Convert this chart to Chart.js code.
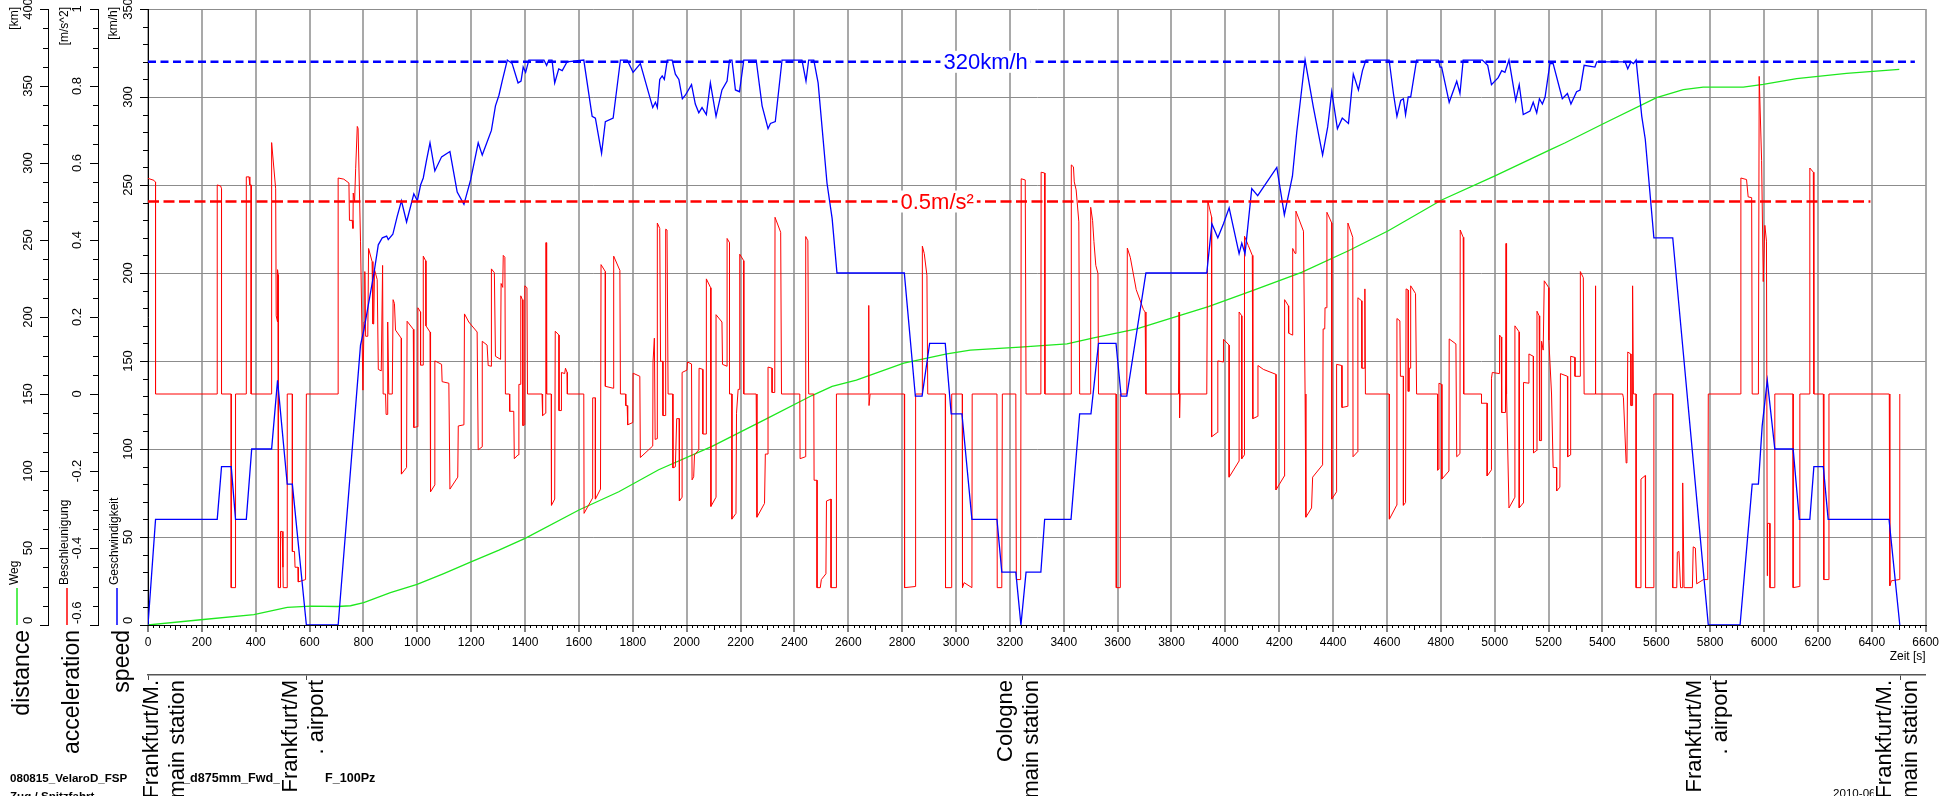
<!DOCTYPE html>
<html>
<head>
<meta charset="utf-8">
<script src="https://cdn.jsdelivr.net/npm/chart.js@4.4.1/dist/chart.umd.min.js"></script>
<style>
  html, body { margin: 0; padding: 0; background: #fff; }
  canvas { display: block; }
</style>
</head>
<body>
<canvas id="c" width="1942" height="796"></canvas>
<script>
// ---- run data: time [s] against speed, acceleration and distance ----
const speedSamples = [
  [0,0],[28,60],[257,60],[273,90],[309,90],[325,60],[365,60],[385,100],[459,100],[481,139],[517,80],[536,80],[588,0],[706,0],
  [789,159],[802,168],[839,200],[855,216],[870,220],[886,221],[892,219],[909,222],[925,232],[941,241],[960,229],[987,245],
  [1000,241],[1012,250],[1022,254],[1034,264],[1047,274],[1065,258],[1090,266],[1121,269],[1148,246],[1173,239],[1198,253],
  [1226,274],[1241,267],[1275,281],[1290,295],[1303,301],[1315,309],[1334,321],[1352,319],[1374,308],[1385,309],[1393,317],
  [1402,314],[1414,321],[1470,321],[1480,318],[1488,321],[1500,321],[1510,308],[1525,316],[1538,315],[1556,320],[1618,321],
  [1649,289],[1661,288],[1684,268],[1698,286],[1727,288],[1754,321],[1779,321],[1801,314],[1828,319],[1874,294],[1884,297],
  [1891,294],[1900,310],[1909,312],[1917,310],[1928,321],[1946,321],[1958,313],[1971,310],[1984,299],[1995,301],[2018,307],
  [2032,296],[2045,291],[2057,294],[2073,290],[2088,308],[2109,289],[2131,304],[2150,309],[2159,321],[2168,321],[2181,304],
  [2196,303],[2212,321],[2258,321],[2280,295],[2302,282],[2311,285],[2329,286],[2354,321],[2428,321],[2443,309],[2453,321],
  [2472,321],[2488,308],[2521,251],[2540,231],[2558,200],[2808,200],[2849,130],[2874,130],[2902,160],[2960,160],[2982,120],
  [3022,120],[3059,60],[3152,60],[3170,30],[3222,30],[3241,0],[3260,30],[3315,30],[3329,60],[3427,60],[3459,120],[3501,120],
  [3529,160],[3594,160],[3613,130],[3634,130],[3705,200],[3931,200],[3950,228],[3972,220],[3993,228],[4014,237],[4051,211],
  [4061,217],[4073,211],[4098,248],[4120,244],[4191,260],[4219,233],[4249,255],[4265,280],[4296,321],[4327,294],[4361,267],
  [4380,283],[4395,303],[4416,282],[4434,288],[4457,285],[4475,313],[4494,304],[4509,315],[4522,321],[4608,321],[4624,302],
  [4637,289],[4651,298],[4661,299],[4669,290],[4679,300],[4688,300],[4710,321],[4791,321],[4797,317],[4803,317],[4831,297],
  [4859,309],[4871,302],[4883,321],[4954,321],[4974,318],[4988,307],[5013,311],[5026,315],[5038,314],[5053,321],[5078,298],
  [5091,307],[5106,290],[5131,292],[5143,297],[5156,291],[5166,299],[5177,296],[5187,300],[5205,319],[5217,319],[5251,299],
  [5270,302],[5283,296],[5304,303],[5317,304],[5332,318],[5372,317],[5379,320],[5484,320],[5494,316],[5506,320],[5515,319],
  [5525,321],[5546,289],[5559,276],[5591,220],[5661,220],[5700,155],[5793,0],[5911,0],[5956,80],[5979,80],[5993,113],
  [6012,139],[6040,100],[6108,100],[6131,60],[6170,60],[6185,90],[6220,90],[6238,60],[6464,60],[6504,0]
];

const accSamples = [
  [0,0.56],[22,0.555],[28,0.55],[28,0],[257,0],[257,0.543],[270,0.54],[273,0.533],[273,0],[309,0],[309,-0.503],[325,-0.503],
  [325,0],[365,0],[365,0.564],[375,0.564],[378,0.543],[383,0.543],[383,0],[459,0],[459,0.653],[474,0.533],[476,0.203],
  [481,0.187],[481,0.323],[483,0.31],[484,-0.503],[492,-0.503],[492,-0.357],[498,-0.357],[501,-0.45],[502,-0.503],[517,-0.503],
  [517,0],[536,0],[536,-0.409],[544,-0.409],[546,-0.45],[557,-0.45],[558,-0.488],[585,-0.482],[588,0],[706,0],[706,0.561],
  [727,0.558],[746,0.548],[748,0.451],[758,0.451],[761,0.43],[762,0.522],[767,0.5],[771,0.585],[777,0.695],[780,0.69],
  [789,0.397],[798,0.01],[802,0.187],[805,0.318],[808,0.15],[816,0.15],[819,0.378],[832,0.344],[835,0.182],[838,0.182],
  [841,0.323],[851,0.297],[855,0.064],[866,0.06],[871,0.334],[873,0],[882,0],[884,-0.053],[890,-0.053],[890,0.187],[894,0],
  [907,0],[910,0.245],[915,0.235],[919,0.166],[940,0.145],[941,-0.208],[960,-0.191],[962,0.189],[985,0.168],[987,-0.087],
  [999,-0.085],[1002,0.224],[1012,0.213],[1012,0.075],[1022,0.075],[1022,0.358],[1031,0.346],[1032,0.177],[1047,0.161],
  [1049,-0.254],[1065,-0.236],[1065,0.086],[1090,0.077],[1092,0.032],[1117,0.028],[1121,-0.247],[1150,-0.216],[1152,-0.083],
  [1173,-0.08],[1175,0.208],[1191,0.187],[1222,0.161],[1226,-0.145],[1241,-0.137],[1241,0.137],[1259,0.127],[1263,0.074],
  [1275,0.072],[1275,0.325],[1286,0.315],[1290,0.098],[1309,0.09],[1311,0.287],[1317,0.277],[1319,0.36],[1325,0.355],
  [1327,0],[1342,0],[1343,-0.045],[1358,-0.045],[1360,-0.168],[1374,-0.158],[1377,0.025],[1383,0.025],[1384,0.255],
  [1390,0.245],[1392,-0.082],[1398,-0.08],[1399,0.281],[1407,0.276],[1409,0],[1463,0],[1465,-0.056],[1476,-0.05],[1477,0.393],
  [1479,0.393],[1480,0],[1497,0],[1498,-0.289],[1510,-0.273],[1512,0.163],[1526,0.153],[1526,-0.043],[1534,-0.043],
  [1535,0.056],[1547,0.053],[1550,0.067],[1556,0.056],[1557,0],[1618,0],[1619,-0.31],[1630,-0.296],[1651,-0.27],[1651,-0.01],
  [1661,-0.01],[1661,-0.273],[1680,-0.247],[1682,0.336],[1698,0.318],[1698,0.02],[1727,0.015],[1729,0.358],[1752,0.321],
  [1754,0],[1773,0],[1774,-0.03],[1779,-0.03],[1781,-0.08],[1800,-0.074],[1801,0.054],[1826,0.046],[1828,-0.165],[1874,-0.135],
  [1875,0.083],[1880,0.145],[1883,-0.118],[1890,-0.116],[1891,0.444],[1900,0.43],[1903,0.085],[1911,0.085],[1912,-0.056],
  [1921,-0.056],[1922,0.428],[1927,0.426],[1931,0],[1948,0],[1949,-0.192],[1958,-0.189],[1963,-0.064],[1972,-0.064],
  [1973,-0.278],[1983,-0.268],[1983,0.056],[2001,0.062],[2003,0.083],[2018,0.078],[2020,-0.223],[2026,-0.215],[2029,-0.158],
  [2045,-0.145],[2046,0.067],[2060,0.064],[2060,-0.104],[2072,-0.104],[2073,0.299],[2089,0.276],[2090,-0.292],[2109,-0.268],
  [2109,0.206],[2131,0.187],[2133,0.077],[2150,0.072],[2150,0.404],[2159,0.393],[2159,0],[2168,0],[2168,-0.325],[2183,-0.31],
  [2185,-0.05],[2191,0.012],[2196,0.012],[2197,0.363],[2212,0.346],[2212,0],[2258,0],[2261,-0.32],[2289,-0.284],[2292,-0.156],
  [2302,-0.156],[2302,0.07],[2317,0.067],[2317,0.004],[2327,0.004],[2328,0.459],[2349,0.42],[2352,0],[2420,0],[2421,-0.168],
  [2441,-0.163],[2442,0.409],[2450,0.398],[2453,0],[2472,0],[2473,-0.224],[2484,-0.224],[2484,-0.503],[2496,-0.503],
  [2500,-0.482],[2517,-0.467],[2519,-0.278],[2536,-0.273],[2536,-0.503],[2556,-0.503],[2556,0],[2675,0],[2676,0.23],
  [2677,-0.03],[2680,-0.03],[2681,0],[2808,0],[2809,-0.503],[2849,-0.5],[2850,0],[2874,0],[2875,0.384],[2882,0.365],
  [2892,0.308],[2895,0],[2960,0],[2961,-0.503],[2982,-0.503],[2984,0],[3023,0],[3024,-0.503],[3030,-0.49],[3059,-0.503],
  [3060,0],[3152,0],[3153,-0.503],[3170,-0.503],[3172,0],[3222,0],[3224,-0.482],[3240,-0.482],[3242,0.559],[3257,0.556],
  [3260,0],[3315,0],[3316,0.576],[3329,0.574],[3330,0],[3427,0],[3428,0.595],[3436,0.59],[3439,0.551],[3446,0.53],
  [3456,0.447],[3459,0],[3498,0],[3500,0.485],[3507,0.451],[3512,0.396],[3519,0.334],[3527,0.313],[3529,0],[3594,0],
  [3595,-0.503],[3610,-0.503],[3610,0],[3634,0],[3636,0.379],[3647,0.355],[3669,0.271],[3696,0.219],[3702,0.213],[3705,0],
  [3826,0],[3828,0.213],[3830,-0.062],[3832,0],[3931,0],[3935,0.501],[3949,0.459],[3949,-0.111],[3970,-0.1],[3972,0.086],
  [3993,0.083],[3993,0.142],[4014,0.127],[4014,-0.216],[4051,-0.174],[4051,0.213],[4061,0.203],[4061,-0.168],[4071,-0.158],
  [4071,0.41],[4085,0.386],[4100,0.36],[4102,-0.064],[4120,-0.058],[4121,0.074],[4141,0.064],[4188,0.051],[4188,-0.249],
  [4219,-0.213],[4220,0.245],[4234,0.229],[4235,0.158],[4249,0.153],[4250,0.378],[4259,0.365],[4262,0.475],[4290,0.423],
  [4296,0],[4299,-0.32],[4320,-0.296],[4324,-0.216],[4361,-0.184],[4363,0.169],[4369,0.169],[4370,0.224],[4376,0.224],
  [4377,0.472],[4395,0.444],[4395,-0.273],[4413,-0.254],[4413,0.077],[4432,0.074],[4433,-0.035],[4454,-0.032],[4455,0.444],
  [4473,0.407],[4474,-0.163],[4491,-0.15],[4492,0.25],[4506,0.242],[4507,0.067],[4517,0.067],[4518,0.273],[4520,0],
  [4608,0],[4609,-0.325],[4636,-0.289],[4637,0.196],[4648,0.19],[4650,0.046],[4661,0.046],[4661,-0.289],[4669,-0.282],
  [4671,0.273],[4679,0.27],[4679,0.007],[4683,0.007],[4683,0.067],[4688,0.067],[4688,0.281],[4706,0.261],[4710,0],[4788,0],
  [4788,-0.198],[4792,-0.195],[4793,0.028],[4803,0.025],[4804,-0.221],[4830,-0.2],[4831,0.143],[4856,0.13],[4859,-0.163],
  [4871,-0.155],[4872,0.426],[4883,0.407],[4885,0],[4951,0],[4951,-0.024],[4972,-0.024],[4972,-0.213],[4988,-0.197],
  [4988,0.041],[4991,0.056],[5017,0.053],[5018,0.153],[5024,0.148],[5026,-0.048],[5040,-0.048],[5042,0.391],[5044,0],
  [5053,-0.296],[5075,-0.268],[5075,0.177],[5091,0.161],[5091,-0.296],[5106,-0.283],[5107,0.03],[5127,0.028],[5127,0.104],
  [5143,0.098],[5144,-0.153],[5155,-0.147],[5157,0.215],[5165,0.203],[5167,-0.121],[5174,-0.121],[5174,0.137],[5180,0.114],
  [5184,0.294],[5201,0.276],[5201,0.14],[5211,0],[5217,-0.191],[5230,-0.191],[5230,-0.252],[5242,-0.242],[5244,0.053],
  [5270,0.046],[5271,-0.163],[5282,-0.158],[5282,0.098],[5298,0.095],[5298,0.046],[5317,0.046],[5318,0.318],[5329,0.302],
  [5332,0],[5373,0],[5374,0.281],[5375,0],[5475,0],[5478,-0.01],[5488,-0.179],[5491,-0.176],[5494,0.109],[5505,0.104],
  [5506,-0.03],[5511,-0.03],[5512,0.281],[5515,0],[5525,0],[5525,-0.503],[5543,-0.503],[5543,-0.221],[5559,-0.212],
  [5560,-0.503],[5591,-0.503],[5591,0],[5661,0],[5661,-0.503],[5676,-0.503],[5678,-0.411],[5684,-0.409],[5690,-0.503],
  [5696,-0.503],[5698,-0.231],[5703,-0.503],[5734,-0.503],[5737,-0.397],[5745,-0.4],[5750,-0.493],[5775,-0.482],
  [5791,-0.482],[5793,0],[5913,0],[5914,0.561],[5935,0.557],[5941,0.512],[5954,0.51],[5956,0],[5979,0],[5982,0.825],
  [5991,0.606],[5997,0.292],[6003,0.438],[6009,0.397],[6012,-0.472],[6013,-0.336],[6021,-0.336],[6022,-0.503],[6038,-0.503],
  [6040,0],[6108,0],[6108,-0.503],[6131,-0.5],[6133,0],[6170,0],[6170,0.587],[6183,0.576],[6185,0],[6220,0],[6222,-0.482],
  [6238,-0.482],[6241,0],[6465,0],[6467,-0.498],[6473,-0.485],[6502,-0.482],[6504,0]
];

const distanceSamples = [
  [0,0],[196,3.4],[393,6.8],[517,11.5],[604,12.3],[703,12],[752,12.5],[801,14.6],[900,21],[999,26.4],[1098,33.4],
  [1197,40.8],[1303,48.6],[1402,56.4],[1600,74.7],[1748,86.5],[1896,100.8],[2094,116],[2292,133.5],[2465,149],[2540,155],
  [2630,159],[2806,170],[2966,176],[3053,178.5],[3238,180.5],[3412,182.6],[3511,186.5],[3671,192.3],[3832,201],[3937,206.7],
  [4098,217],[4283,229],[4457,243],[4605,256],[4803,276],[5001,291.6],[5205,308.5],[5260,313],[5403,325.5],[5601,342.5],
  [5700,347.7],[5774,349.3],[5923,349.3],[5997,351],[6121,354.8],[6306,358.2],[6502,360.8]
];

// stops along the run
const stationTimes = [0, 590, 3245, 5802, 6507];
const stationNames = [
  ['Frankfurt/M.', 'main station'],
  ['Frankfurt/M', '. airport'],
  ['Cologne', 'main station'],
  ['Frankfurt/M', '. airport'],
  ['Frankfurt/M.', 'main station']
];

// limit lines and their captions
const speedLimit = 320;        // km/h
const speedLimitEnd = 6560;    // s
const accLimit = 0.5;          // m/s^2
const accLimitEnd = 6395;      // s
const speedLimitCaption = { t: 3110, text: '320km/h' };
const accLimitCaption = { t: 2930, text: '0.5m/s\u00B2' };

// axis ranges and steps
const timeRange = [0, 6600], timeStep = 200;
const speedRange = [0, 350], speedStep = 50;
const accRange = [-0.6, 1], accStep = 0.2;
const distRange = [0, 400], distStep = 50;

const FONT = "'Liberation Sans', Arial, Helvetica, sans-serif";
const TICK_FONT = 13;
const BLUE = '#0000ff', RED = '#ff0000', GREEN = '#1ee81e';

const toXY = arr => arr.map(p => ({ x: p[0], y: p[1] }));
const numLabel = v => String(Math.round(v * 100) / 100);
// the lowest label of each value axis is set separately so that it sits above the time axis
const valueLabel = (v, i) => (i === 0 ? '' : numLabel(v));

// extra marks and text around the axes
const decorations = {
  id: 'decorations',
  afterDatasetsDraw(chart) {
    const ctx = chart.ctx;
    const xs = chart.scales.x;
    const captions = [
      { c: speedLimitCaption, y: chart.scales.ySpeed.getPixelForValue(speedLimit), col: BLUE },
      { c: accLimitCaption, y: chart.scales.yAcc.getPixelForValue(accLimit), col: RED }
    ];
    ctx.save();
    ctx.font = '22px ' + FONT;
    ctx.textAlign = 'center';
    ctx.textBaseline = 'middle';
    for (const cap of captions) {
      const px = xs.getPixelForValue(cap.c.t);
      const w = ctx.measureText(cap.c.text).width;
      ctx.fillStyle = '#fff';
      ctx.fillRect(px - w / 2 - 3, cap.y - 11, w + 6, 22);
      ctx.fillStyle = cap.col;
      ctx.fillText(cap.c.text, px, cap.y + 1);
    }
    ctx.restore();
  },
  afterDraw(chart) {
    const ctx = chart.ctx;
    const xs = chart.scales.x, x2 = chart.scales.xStations;
    const ys = chart.scales.ySpeed, ya = chart.scales.yAcc, yd = chart.scales.yDist;
    ctx.save();
    ctx.strokeStyle = '#000';
    ctx.lineWidth = 1;

    // minor ticks on the time axis
    ctx.beginPath();
    for (let v = timeRange[0]; v <= timeRange[1]; v += 20) {
      if (v % timeStep === 0) continue;
      const px = Math.round(xs.getPixelForValue(v)) + 0.5;
      const len = v % 100 === 0 ? 5 : 3;
      ctx.moveTo(px, xs.top);
      ctx.lineTo(px, xs.top + len);
    }
    ctx.stroke();

    // minor ticks on the three value axes
    const minor = [
      { s: yd, lo: distRange[0], hi: distRange[1], step: 12.5, major: distStep },
      { s: ya, lo: accRange[0], hi: accRange[1], step: 0.05, major: accStep },
      { s: ys, lo: speedRange[0], hi: speedRange[1], step: 10, major: speedStep }
    ];
    ctx.beginPath();
    for (const m of minor) {
      const n = Math.round((m.hi - m.lo) / m.step);
      const per = Math.round(m.major / m.step);
      for (let i = 0; i <= n; i++) {
        if (i % per === 0) continue;
        const py = Math.round(m.s.getPixelForValue(m.lo + i * m.step)) + 0.5;
        ctx.moveTo(m.s.right, py);
        ctx.lineTo(m.s.right - 5, py);
      }
    }
    ctx.stroke();

    const rotText = (text, x, y, font, color, align) => {
      ctx.save();
      ctx.translate(x, y);
      ctx.rotate(-Math.PI / 2);
      ctx.font = font;
      ctx.fillStyle = color;
      ctx.textAlign = align;
      ctx.textBaseline = 'middle';
      ctx.fillText(text, 0, 0);
      ctx.restore();
    };

    // lowest label of each value axis, resting on the time axis
    ctx.font = TICK_FONT + 'px ' + FONT;
    for (const s of [yd, ya, ys]) {
      const labels = s.ticks.map(t => numLabel(t.value));
      const widest = Math.max(...labels.map(l => ctx.measureText(l).width));
      const cx = s.right - 8 - 1 - widest / 2;
      rotText(labels[0], cx, s.bottom - 1, TICK_FONT + 'px ' + FONT, '#000', 'left');
    }

    // unit captions at the top of each value axis
    rotText('[km]', yd.right - 33, 7, '12px ' + FONT, '#000', 'right');
    rotText('[m/s^2]', ya.right - 33, 7, '12px ' + FONT, '#000', 'right');
    rotText('[km/h]', ys.right - 34, 7, '12px ' + FONT, '#000', 'right');

    // series keys at the foot of each value axis
    const keys = [
      { s: yd, name: 'Weg', col: GREEN },
      { s: ya, name: 'Beschleunigung', col: RED },
      { s: ys, name: 'Geschwindigkeit', col: BLUE }
    ];
    for (const k of keys) {
      const ax = k.s.right;
      ctx.strokeStyle = k.col;
      ctx.lineWidth = 1.5;
      ctx.beginPath();
      ctx.moveTo(ax - 31, k.s.bottom);
      ctx.lineTo(ax - 31, k.s.bottom - 37);
      ctx.stroke();
      rotText(k.name, ax - 33, k.s.bottom - 40, '12px ' + FONT, '#000', 'left');
    }

    // big quantity names under the value axes
    rotText('distance', yd.right - 25, xs.top + 5, '23px ' + FONT, '#000', 'right');
    rotText('acceleration', ya.right - 25, xs.top + 5, '23px ' + FONT, '#000', 'right');
    rotText('speed', ys.right - 25, xs.top + 5, '23px ' + FONT, '#000', 'right');

    // time axis caption
    ctx.font = '12px ' + FONT;
    ctx.fillStyle = '#000';
    ctx.textAlign = 'right';
    ctx.textBaseline = 'middle';
    ctx.fillText('Zeit [s]', xs.right, 657);

    // run description in the footer
    ctx.font = 'bold 11.6px ' + FONT;
    ctx.textAlign = 'left';
    ctx.fillText('080815_VelaroD_FSP', 10, 779);
    ctx.fillText('Zug / Spitzfahrt', 10, 797);
    ctx.font = 'bold 12.6px ' + FONT;
    ctx.fillText('_d875mm_Fwd_2x', 183, 779);
    ctx.fillText('F_100Pz', 325, 779);
    ctx.font = '11.6px ' + FONT;
    ctx.fillText('2010-06-14', 1833, 794);

    // station names under the stop marks
    const top = x2.top + 5;
    ctx.font = '22px ' + FONT;
    stationTimes.forEach((t, i) => {
      const px = x2.getPixelForValue(t);
      const c0 = Math.max(px - 16, x2.left + 4);
      const c1 = c0 + 26;
      const lines = stationNames[i];
      const w = Math.max(...lines.map(l => ctx.measureText(l).width));
      ctx.fillStyle = '#fff';
      ctx.fillRect(c0 - 11, top, c1 - c0 + 16, w + 2);
      rotText(lines[0], c0, top, '22px ' + FONT, '#000', 'right');
      rotText(lines[1], c1, top, '22px ' + FONT, '#000', 'right');
    });
    ctx.restore();
  }
};

const valueTicks = (step) => ({
  stepSize: step, autoSkip: false, minRotation: 90, maxRotation: 90, crossAlign: 'center',
  padding: 1, color: '#000', font: { family: FONT, size: TICK_FONT }, callback: valueLabel
});

new Chart(document.getElementById('c'), {
  type: 'line',
  data: {
    datasets: [
      {
        label: 'speed limit', data: [{ x: 0, y: speedLimit }, { x: speedLimitEnd, y: speedLimit }],
        yAxisID: 'ySpeed', borderColor: BLUE, borderWidth: 2.5, borderDash: [8, 4.5], pointRadius: 0, order: 0
      },
      {
        label: 'acceleration limit', data: [{ x: 0, y: accLimit }, { x: accLimitEnd, y: accLimit }],
        yAxisID: 'yAcc', borderColor: RED, borderWidth: 2.5, borderDash: [11, 4.5], pointRadius: 0, order: 0
      },
      {
        label: 'Geschwindigkeit', data: toXY(speedSamples), yAxisID: 'ySpeed',
        borderColor: BLUE, borderWidth: 1.3, pointRadius: 0, order: 1
      },
      {
        label: 'Beschleunigung', data: toXY(accSamples), yAxisID: 'yAcc',
        borderColor: RED, borderWidth: 1, pointRadius: 0, order: 2
      },
      {
        label: 'Weg', data: toXY(distanceSamples), yAxisID: 'yDist',
        borderColor: GREEN, borderWidth: 1.3, pointRadius: 0, order: 3
      }
    ]
  },
  options: {
    responsive: false,
    animation: false,
    devicePixelRatio: 1,
    events: [],
    layout: { padding: { top: 9, right: 12, left: 0, bottom: 0 } },
    plugins: { legend: { display: false }, tooltip: { enabled: false } },
    elements: { line: { tension: 0, fill: false } },
    scales: {
      x: {
        type: 'linear', position: 'bottom', weight: 0,
        min: timeRange[0], max: timeRange[1],
        afterFit: s => { s.height = 50; },
        ticks: {
          stepSize: timeStep, autoSkip: false, maxRotation: 0, padding: 3, color: '#000',
          font: { family: FONT, size: 12 }, callback: v => String(v)
        },
        grid: { color: '#a9a9a9', lineWidth: 2, tickColor: '#000', tickLength: 7, tickWidth: 1 },
        border: { display: true, color: '#000', width: 1 }
      },
      xStations: {
        type: 'linear', position: 'bottom', weight: 1,
        min: timeRange[0], max: timeRange[1],
        afterFit: s => { s.height = 121; },
        afterBuildTicks: s => { s.ticks = stationTimes.map(v => ({ value: v })); },
        ticks: { display: false },
        grid: { drawOnChartArea: false, drawTicks: true, tickLength: 6, tickColor: '#444', tickWidth: 1 },
        border: { display: true, color: '#555', width: 1.5 }
      },
      ySpeed: {
        type: 'linear', position: 'left', weight: 1,
        min: speedRange[0], max: speedRange[1],
        afterFit: s => { s.width = 50; },
        ticks: valueTicks(speedStep),
        grid: { color: '#8c8c8c', lineWidth: 1, tickColor: '#000', tickLength: 8, drawOnChartArea: true },
        border: { display: true, color: '#000', width: 1 }
      },
      yAcc: {
        type: 'linear', position: 'left', weight: 2,
        min: accRange[0], max: accRange[1],
        afterFit: s => { s.width = 50; },
        ticks: valueTicks(accStep),
        grid: { drawOnChartArea: false, tickColor: '#000', tickLength: 8 },
        border: { display: true, color: '#000', width: 1 }
      },
      yDist: {
        type: 'linear', position: 'left', weight: 3,
        min: distRange[0], max: distRange[1],
        afterFit: s => { s.width = 48; },
        ticks: valueTicks(distStep),
        grid: { drawOnChartArea: false, tickColor: '#000', tickLength: 8 },
        border: { display: true, color: '#000', width: 1 }
      }
    }
  },
  plugins: [decorations]
});
</script>
</body>
</html>
